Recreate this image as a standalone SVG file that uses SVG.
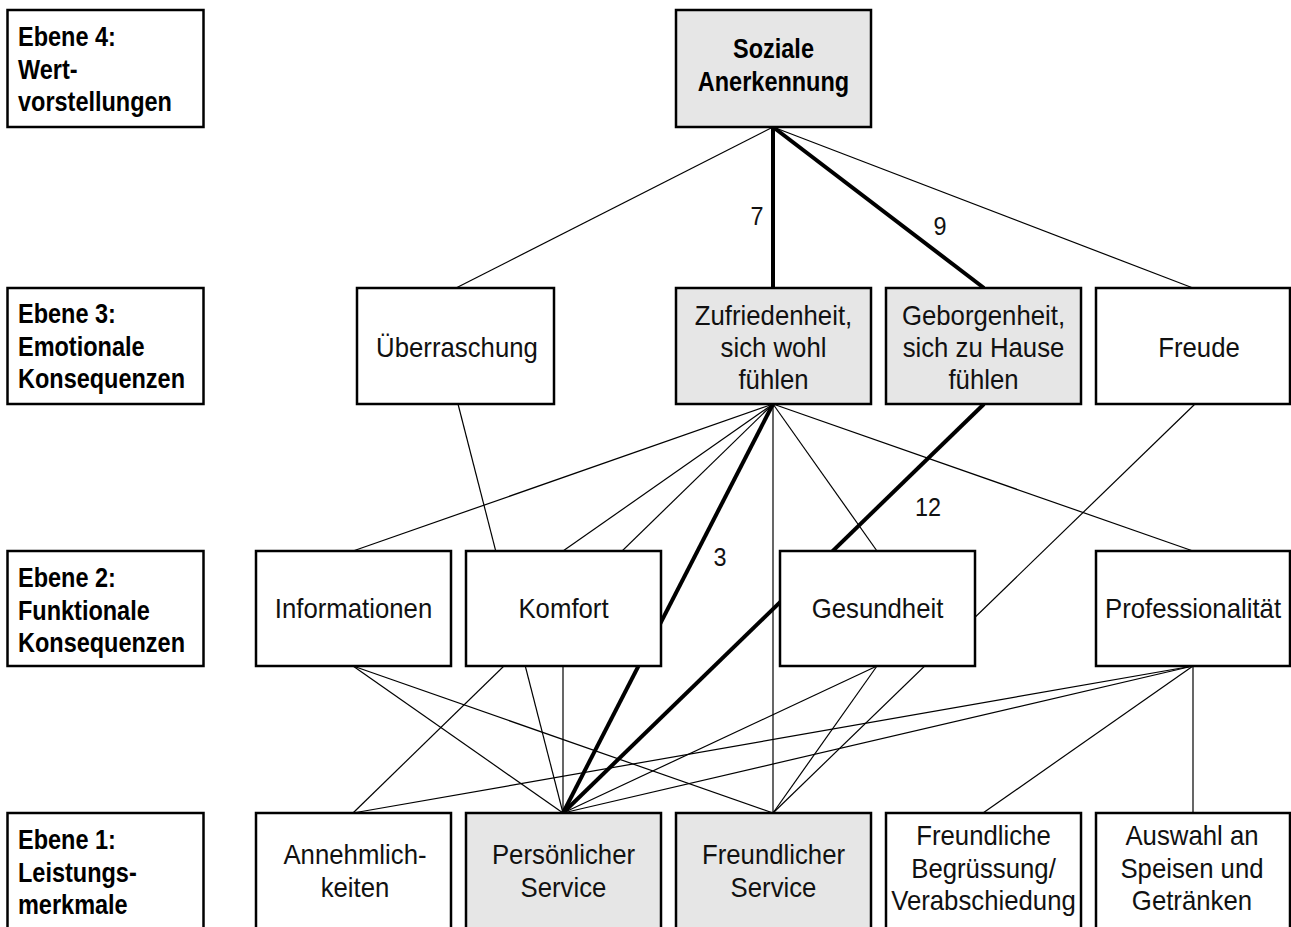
<svg xmlns="http://www.w3.org/2000/svg" width="1291" height="927" viewBox="0 0 1291 927">
  <style>
    .box { fill: #ffffff; stroke: #000000; stroke-width: 2.5; }
    .hl { fill: #e6e6e6; }
    .t, .b, .bc, .num { font-family: 'Liberation Sans', Arial, sans-serif; transform-box: fill-box; }
    .t { font-size: 28px; fill: #111111; text-anchor: middle; transform-origin: center; transform: scaleX(0.92); }
    .b { font-size: 27px; font-weight: bold; fill: #000000; transform-origin: left center; transform: scaleX(0.87); }
    .bc { font-size: 27px; font-weight: bold; fill: #000000; text-anchor: middle; transform-origin: center; transform: scaleX(0.87); }
    .num { font-size: 26px; fill: #111111; text-anchor: middle; transform-origin: center; transform: scaleX(0.9); }
    .thin { stroke: #000000; stroke-width: 1.2; fill: none; }
    .thick { stroke: #000000; stroke-width: 4; fill: none; }
  </style>

  <rect width="1291" height="927" fill="#ffffff"/>

  <!-- connectors, drawn beneath the boxes -->
  <g id="connectors">
    <!-- level 4 to level 3 -->
    <line class="thin" x1="773" y1="127" x2="456" y2="288"/>
    <line class="thick" x1="773" y1="127" x2="773" y2="288"/>
    <line class="thick" x1="773" y1="127" x2="984" y2="288"/>
    <line class="thin" x1="773" y1="127" x2="1193" y2="288"/>

    <!-- from Zufriedenheit -->
    <line class="thin" x1="773" y1="404" x2="353" y2="551"/>
    <line class="thin" x1="773" y1="404" x2="563" y2="551"/>
    <line class="thin" x1="773" y1="404" x2="353" y2="813"/>
    <line class="thick" x1="773" y1="404" x2="563" y2="813"/>
    <line class="thin" x1="773" y1="404" x2="773" y2="813"/>
    <line class="thin" x1="773" y1="404" x2="877" y2="551"/>
    <line class="thin" x1="773" y1="404" x2="1193" y2="551"/>

    <!-- from Überraschung, Geborgenheit, Freude -->
    <line class="thin" x1="458" y1="404" x2="563" y2="813"/>
    <line class="thick" x1="984" y1="404" x2="563" y2="813"/>
    <line class="thin" x1="1195" y1="404" x2="773" y2="813"/>

    <!-- level 2 to level 1 -->
    <line class="thin" x1="353" y1="666" x2="563" y2="813"/>
    <line class="thin" x1="353" y1="666" x2="773" y2="813"/>
    <line class="thin" x1="563" y1="666" x2="563" y2="813"/>
    <line class="thin" x1="877" y1="666" x2="563" y2="813"/>
    <line class="thin" x1="877" y1="666" x2="773" y2="813"/>
    <line class="thin" x1="1193" y1="666" x2="353" y2="813"/>
    <line class="thin" x1="1193" y1="666" x2="563" y2="813"/>
    <line class="thin" x1="1193" y1="666" x2="983" y2="813"/>
    <line class="thin" x1="1193" y1="666" x2="1193" y2="813"/>

    <!-- weights on the highlighted path -->
    <text class="num" x="757" y="225">7</text>
    <text class="num" x="940" y="235">9</text>
    <text class="num" x="720" y="566">3</text>
    <text class="num" x="928" y="516">12</text>
  </g>

  <!-- level captions -->
  <g id="level4-caption">
    <rect class="box" x="7.5" y="10" width="196" height="117"/>
    <text class="b" x="18" y="46">Ebene 4:</text>
    <text class="b" x="18" y="79">Wert-</text>
    <text class="b" x="18" y="111">vorstellungen</text>
  </g>
  <g id="level3-caption">
    <rect class="box" x="7.5" y="288" width="196" height="116"/>
    <text class="b" x="18" y="323">Ebene 3:</text>
    <text class="b" x="18" y="356">Emotionale</text>
    <text class="b" x="18" y="388">Konsequenzen</text>
  </g>
  <g id="level2-caption">
    <rect class="box" x="7.5" y="551" width="196" height="115"/>
    <text class="b" x="18" y="587">Ebene 2:</text>
    <text class="b" x="18" y="620">Funktionale</text>
    <text class="b" x="18" y="652">Konsequenzen</text>
  </g>
  <g id="level1-caption">
    <rect class="box" x="7.5" y="813" width="196" height="120"/>
    <text class="b" x="18" y="849">Ebene 1:</text>
    <text class="b" x="18" y="882">Leistungs-</text>
    <text class="b" x="18" y="914">merkmale</text>
  </g>

  <!-- level 4 -->
  <g id="soziale-anerkennung">
    <rect class="box hl" x="676" y="10" width="195" height="117"/>
    <text class="bc" x="773.5" y="58">Soziale</text>
    <text class="bc" x="773.5" y="91">Anerkennung</text>
  </g>

  <!-- level 3 -->
  <g id="ueberraschung">
    <rect class="box" x="357" y="288" width="197" height="116"/>
    <text class="t" x="457" y="357">Überraschung</text>
  </g>
  <g id="zufriedenheit">
    <rect class="box hl" x="676" y="288" width="195" height="116"/>
    <text class="t" x="773.5" y="325">Zufriedenheit,</text>
    <text class="t" x="773.5" y="357">sich wohl</text>
    <text class="t" x="773.5" y="389">fühlen</text>
  </g>
  <g id="geborgenheit">
    <rect class="box hl" x="886" y="288" width="195" height="116"/>
    <text class="t" x="983.5" y="325">Geborgenheit,</text>
    <text class="t" x="983.5" y="357">sich zu Hause</text>
    <text class="t" x="983.5" y="389">fühlen</text>
  </g>
  <g id="freude">
    <rect class="box" x="1096" y="288" width="194" height="116"/>
    <text class="t" x="1199" y="357">Freude</text>
  </g>

  <!-- level 2 -->
  <g id="informationen">
    <rect class="box" x="256" y="551" width="195" height="115"/>
    <text class="t" x="353.5" y="618">Informationen</text>
  </g>
  <g id="komfort">
    <rect class="box" x="466" y="551" width="195" height="115"/>
    <text class="t" x="563.5" y="618">Komfort</text>
  </g>
  <g id="gesundheit">
    <rect class="box" x="780" y="551" width="195" height="115"/>
    <text class="t" x="877.5" y="618">Gesundheit</text>
  </g>
  <g id="professionalitaet">
    <rect class="box" x="1096" y="551" width="194" height="115"/>
    <text class="t" x="1193" y="618">Professionalität</text>
  </g>

  <!-- level 1 -->
  <g id="annehmlichkeiten">
    <rect class="box" x="256" y="813" width="195" height="120"/>
    <text class="t" x="355" y="864">Annehmlich-</text>
    <text class="t" x="355" y="897">keiten</text>
  </g>
  <g id="persoenlicher-service">
    <rect class="box hl" x="466" y="813" width="195" height="120"/>
    <text class="t" x="563.5" y="864">Persönlicher</text>
    <text class="t" x="563.5" y="897">Service</text>
  </g>
  <g id="freundlicher-service">
    <rect class="box hl" x="676" y="813" width="195" height="120"/>
    <text class="t" x="773.5" y="864">Freundlicher</text>
    <text class="t" x="773.5" y="897">Service</text>
  </g>
  <g id="begruessung">
    <rect class="box" x="886" y="813" width="195" height="120"/>
    <text class="t" x="983.5" y="845">Freundliche</text>
    <text class="t" x="983.5" y="878">Begrüssung/</text>
    <text class="t" x="983.5" y="910">Verabschiedung</text>
  </g>
  <g id="auswahl">
    <rect class="box" x="1096" y="813" width="194" height="120"/>
    <text class="t" x="1192" y="845">Auswahl an</text>
    <text class="t" x="1192" y="878">Speisen und</text>
    <text class="t" x="1192" y="910">Getränken</text>
  </g>
</svg>
